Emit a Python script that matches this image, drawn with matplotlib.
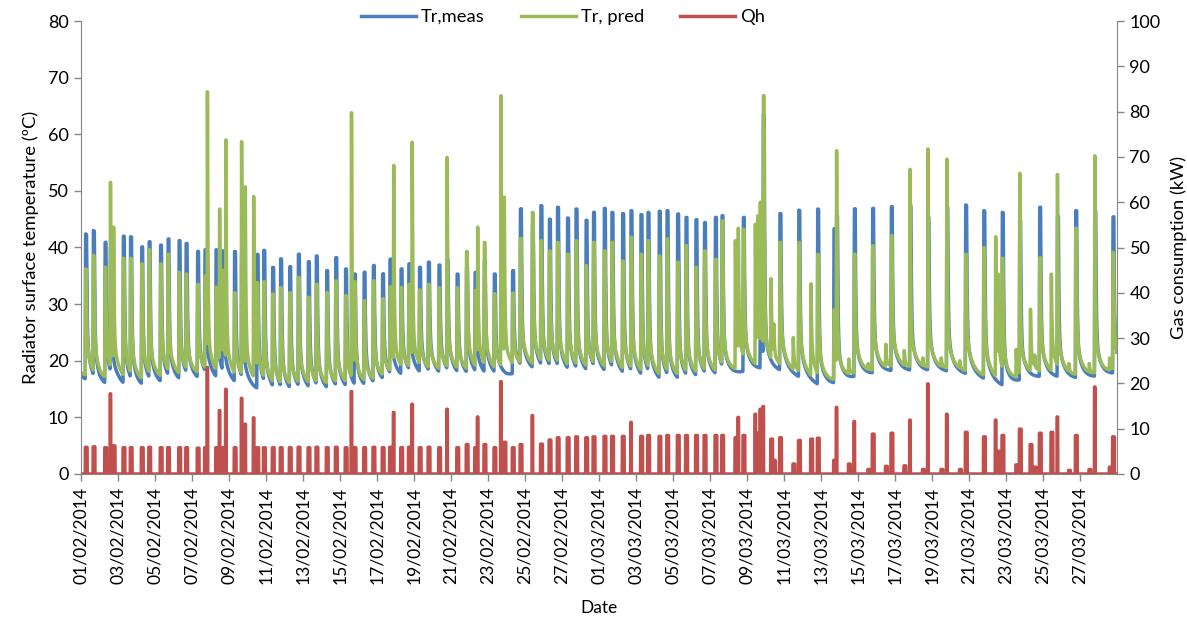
import numpy as np
import matplotlib
matplotlib.use("Agg")
import matplotlib.pyplot as plt
from datetime import datetime, timedelta

nan = float("nan")

# ---------------- data ----------------
# heating events: time (days since 01/02/2014 00:00), measured peak (degC),
# predicted peak (degC), gas consumption peak (kW)
ev_day = [0.25, 0.67, 1.30, 1.59, 1.76, 2.29, 2.68, 3.28, 3.68, 4.30, 4.70,
          5.30, 5.68, 6.30, 6.70, 6.83, 7.30, 7.49, 7.64, 7.83, 8.30, 8.68,
          8.88, 9.33, 9.52, 9.88, 10.36, 10.79, 11.28, 11.75, 12.29, 12.72,
          13.28, 13.77, 14.30, 14.62, 14.78, 15.30, 15.80, 16.30, 16.70,
          16.90, 17.30, 17.72, 17.90, 18.30, 18.78, 19.35, 19.79, 20.33,
          20.84, 21.30, 21.44, 21.80, 22.34, 22.70, 22.88, 23.33, 23.75,
          24.40, 24.86, 25.32, 25.76, 26.30, 26.76, 27.30, 27.70, 28.29,
          28.70, 29.28, 29.73, 30.27, 30.65, 31.26, 31.68, 32.25, 32.70,
          33.24, 33.70, 34.29, 34.65, 35.37, 35.53, 35.80, 36.45, 36.58,
          36.72, 36.88, 37.30, 37.45, 37.78, 38.50, 38.80, 39.46, 39.82,
          40.70, 40.84, 41.50, 41.80, 42.55, 42.79, 43.50, 43.80, 44.50,
          44.81, 45.50, 45.78, 46.50, 46.80, 47.50, 47.82, 48.80, 49.44,
          49.57, 49.80, 50.55, 50.74, 51.32, 51.55, 51.82, 52.45, 52.78,
          53.40, 53.77, 54.50, 54.80, 55.60, 55.78]
ev_meas = [42.4, 43.0, 40.9, 40.0, nan, 42.0, 41.9, 40.1, 41.0, 40.4, 41.5,
           41.2, 40.7, 39.3, 39.6, nan, 39.6, nan, 39.4, nan, 39.3, 38.8,
           nan, nan, 38.8, 39.5, 36.5, 38.0, 36.6, 38.8, 37.5, 38.5,
           35.9, 38.2, 36.2, nan, 35.3, 35.6, 36.8, 35.3, 37.9,
           nan, 36.2, 37.1, nan, 36.5, 37.4, 36.9, 37.9, 35.3,
           36.5, 35.6, nan, 37.6, 35.3, nan, nan, 35.9, 46.8,
           44.0, 47.4, 45.0, 47.1, 45.2, 46.8, 44.8, 46.2, 46.9,
           46.2, 46.0, 46.5, 45.8, 46.2, 46.4, 46.5, 45.9, 45.3,
           44.9, 44.4, 45.3, 45.6, nan, nan, 45.3, nan, nan,
           30.0, 63.5, nan, nan, 46.0, nan, 46.6, nan, 46.8,
           43.3, 45.6, nan, 46.8, nan, 46.9, nan, 47.2, nan,
           47.4, nan, 45.3, nan, 47.1, nan, 47.5, 46.5, nan,
           nan, 46.2, nan, 44.7, nan, nan, 47.1, nan, 45.5,
           nan, 46.5, nan, 46.5, nan, 45.4]
ev_pred = [36.2, 38.6, 36.5, 51.5, 43.6, 38.1, 38.1, 37.1, 39.6, 37.1, 38.8,
           35.6, 35.3, 33.5, 35.0, 67.5, 33.0, 46.8, 36.0, 59.0, 32.0, 58.7,
           50.7, 49.0, 33.8, 34.0, 31.8, 32.9, 32.0, 34.7, 31.2, 33.5,
           32.0, 34.1, 31.5, 63.8, 34.0, 30.6, 34.1, 30.9, 33.0,
           54.5, 32.9, 33.5, 58.6, 32.5, 33.5, 32.9, 55.9, 32.9,
           39.3, 32.4, 43.6, 40.9, 31.8, 66.8, 48.9, 31.9, 41.6,
           46.2, 41.2, 39.4, 40.9, 38.8, 41.2, 36.8, 40.9, 39.4,
           40.9, 37.6, 41.8, 38.8, 41.2, 38.5, 41.5, 37.4, 40.3,
           36.5, 39.4, 37.9, 44.7, 41.2, 43.4, 43.2, 44.1, 45.6,
           48.0, 66.8, 34.5, 26.5, 40.9, 24.1, 40.9, 33.6, 38.8,
           29.0, 57.1, 20.3, 38.8, 19.5, 40.3, 22.9, 42.1, 21.8,
           53.8, 20.5, 57.4, 20.5, 55.6, 20.0, 38.8, 40.0, 41.9,
           35.3, 38.1, 22.0, 53.1, 29.1, 21.0, 38.2, 35.3, 52.9,
           19.5, 43.4, 19.5, 56.2, 20.5, 39.1]
ev_qh = [5.9, 6.0, 5.8, 17.7, 6.2, 5.8, 5.8, 5.8, 5.9, 5.8, 5.8,
         5.8, 5.8, 5.7, 5.8, 23.5, 5.8, 14.0, 5.8, 18.7, 5.8, 16.7,
         11.0, 12.4, 5.8, 5.8, 5.8, 5.8, 5.8, 5.9, 5.8, 5.9,
         5.8, 5.9, 5.8, 18.2, 5.8, 5.8, 5.9, 5.8, 5.9,
         13.6, 5.8, 5.9, 15.4, 5.8, 5.9, 5.8, 14.3, 5.8,
         6.5, 5.8, 12.6, 6.5, 5.8, 20.4, 7.0, 5.8, 6.5,
         12.9, 6.6, 7.5, 8.0, 8.0, 8.2, 8.0, 8.2, 8.3,
         8.3, 8.3, 11.4, 8.3, 8.5, 8.3, 8.5, 8.5, 8.5,
         8.5, 8.5, 8.5, 8.5, 8.0, 12.5, 8.5, 13.2, 9.0,
         14.3, 14.9, 7.7, 3.0, 8.0, 2.2, 7.4, 7.7, 7.9,
         3.0, 14.7, 2.2, 11.6, 1.0, 8.8, 1.7, 9.0, 1.8,
         11.9, 1.0, 19.9, 1.0, 13.2, 1.0, 9.2, 8.2, 11.9,
         5.0, 8.5, 2.0, 9.9, 6.5, 1.5, 9.0, 9.2, 12.6,
         0.8, 8.5, 1.0, 19.2, 1.5, 8.2]

# night-time (unheated) radiator temperature at each midnight, degC
base_day = list(range(57))
base_meas = [17.3, 15.2, 15.8, 15.0, 15.5, 16.0, 16.3, 16.6, 16.0, 15.2,
             14.5, 13.9, 14.5, 14.3, 14.6, 14.6, 15.3, 16.7, 17.3, 17.2,
             17.2, 17.0, 17.0, 17.2, 18.3, 18.0, 17.8, 17.4, 17.6, 17.3,
             16.8, 16.3, 16.0, 16.3, 16.8, 17.3, 18.2, 18.6, 18.0, 16.8,
             15.5, 16.0, 17.3, 17.8, 18.2, 18.2, 18.2, 18.0, 17.5, 16.5,
             15.3, 16.8, 17.2, 17.0, 16.8, 17.2, 17.8]
base_pred = [17.9, 16.3, 16.8, 16.0, 16.5, 17.0, 17.3, 17.6, 17.0, 16.2,
             15.5, 14.9, 15.4, 15.2, 15.5, 15.5, 16.2, 17.6, 18.1, 18.0,
             18.0, 17.8, 17.8, 18.0, 19.0, 18.7, 18.5, 18.1, 18.3, 18.0,
             17.5, 17.0, 16.7, 17.0, 17.4, 17.8, 18.7, 19.1, 18.5, 17.4,
             16.1, 16.6, 17.8, 18.3, 18.7, 18.7, 18.7, 18.5, 18.0, 17.1,
             16.0, 17.4, 17.7, 17.6, 17.4, 17.7, 18.3]

start_date = datetime(2014, 2, 1)
tick_days = list(range(0, 55, 2))
tick_labels = [(start_date + timedelta(days=d)).strftime("%d/%m/%Y") for d in tick_days]

# ---------------- build the traces ----------------
t = np.arange(0, 56.0 + 1e-9, 1.0 / 288)
bm = np.interp(t, base_day, base_meas)
bp = np.interp(t, base_day, base_pred)
cm = np.zeros_like(t)
cp = np.zeros_like(t)
qh = np.zeros_like(t)

RISE, TAU1, TAU2 = 0.02, 0.032, 0.26


def bump(t0, peak, base0, plateau):
    amp = max(peak - base0, 0.0)
    a2 = min(7.0, 0.33 * amp)
    y = np.zeros_like(t)
    r = (t >= t0 - RISE) & (t < t0)
    y[r] = amp * (t[r] - (t0 - RISE)) / RISE
    p = (t >= t0) & (t <= t0 + plateau)
    y[p] = amp
    d = t > t0 + plateau
    dt = t[d] - t0 - plateau
    y[d] = (amp - a2) * np.exp(-dt / TAU1) + a2 * np.exp(-dt / TAU2)
    return y


for d0, m, p, q in zip(ev_day, ev_meas, ev_pred, ev_qh):
    if not np.isnan(m):
        cm = np.maximum(cm, bump(d0, m, np.interp(d0, base_day, base_meas), 0.05))
    sharp = np.isnan(m) or p > m + 5
    cp = np.maximum(cp, bump(d0, p, np.interp(d0, base_day, base_pred),
                             0.004 if sharp else 0.035))
    w = 0.015 if q > 10 else 0.08
    mask = (t >= d0 - RISE) & (t <= d0 + w)
    qh[mask] = np.maximum(qh[mask], q)

meas = bm + cm
pred = bp + cp

# ---------------- plot ----------------
plt.rcParams["font.family"] = ["Lato", "DejaVu Sans"]
fig = plt.figure(figsize=(11.87, 6.17), dpi=100)
ax = fig.add_axes([81 / 1187, 1 - 474 / 617, (1117 - 81) / 1187, (474 - 21) / 617])
ax2 = ax.twinx()

c_blue, c_green, c_red = "#4A7EBB", "#9BBB59", "#C0504D"
l1, = ax.plot(t, meas, color=c_blue, lw=2.5, label="Tr,meas")
l2, = ax.plot(t, pred, color=c_green, lw=2.5, label="Tr, pred")
l3, = ax2.plot(t, qh, color=c_red, lw=2.5, label="Qh")

ax.set_xlim(0, 56)
ax.set_ylim(0, 80)
ax2.set_ylim(0, 100)
ax.set_yticks(range(0, 81, 10))
ax2.set_yticks(range(0, 101, 10))
ax.set_xticks(tick_days)
ax.set_xticklabels(tick_labels, rotation=90)

gray = "#868686"
for a in (ax, ax2):
    for s in a.spines.values():
        s.set_color(gray)
    a.spines["top"].set_visible(False)
    a.tick_params(colors=gray, labelcolor="black", labelsize=13, length=5, width=1, pad=4)
ax.tick_params(axis="x", labelsize=12.6, pad=4)
ax.spines["right"].set_visible(False)
ax2.spines["left"].set_visible(False)
ax2.spines["bottom"].set_visible(False)

ax.set_ylabel("Radiator surface temperature (ºC)", fontsize=13.3, labelpad=6)
ax2.set_ylabel("Gas consumption (kW)", fontsize=13.2, labelpad=7)
ax.set_xlabel("Date", fontsize=12.5, labelpad=12)

fig.legend(handles=[l1, l2, l3], loc="center", bbox_to_anchor=(563 / 1187, 1 - 17 / 617),
           ncol=3, frameon=False, fontsize=13.2, handlelength=3.0,
           columnspacing=2.0, handletextpad=0.25, borderaxespad=0, borderpad=0)

fig.savefig("out.png", dpi=100)
